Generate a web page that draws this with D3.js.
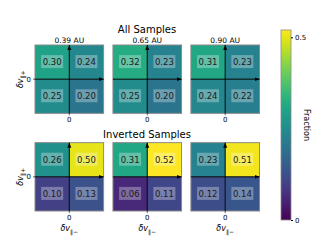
<!DOCTYPE html>
<html><head><meta charset="utf-8">
<script src="https://cdn.jsdelivr.net/npm/d3@7"></script>
<style>body{margin:0;background:#fff}svg{display:block;font-family:"DejaVu Sans",sans-serif}</style>
</head><body><svg id="c" width="317" height="252"></svg>
<script>
const distances = ["0.39 AU", "0.65 AU", "0.90 AU"];
const rowTitles = ["All Samples", "Inverted Samples"];
// quadrant order: top-left, top-right, bottom-left, bottom-right
const allSamples = [[0.30, 0.24, 0.25, 0.20], [0.32, 0.23, 0.25, 0.20], [0.31, 0.23, 0.24, 0.22]];
const invertedSamples = [[0.26, 0.50, 0.10, 0.13], [0.31, 0.52, 0.06, 0.11], [0.23, 0.51, 0.12, 0.14]];
const colorTicks = [0, 0.5];
const vmin = 0, vmax = 0.52;

const svg = d3.select("#c");
const color = d3.scaleSequential(d3.interpolateViridis).domain([vmin, vmax]);
const colX = d3.scaleBand().domain([0,1,2]).range([35, 259.5]).paddingInner(0.12);
const rowY = d3.scaleBand().domain([0,1]).range([45, 211]).paddingInner(0.3);
const quads = [[-1,0,0,1],[0,1,0,1],[-1,0,-1,0],[0,1,-1,0]];

const defs = svg.append("defs");
defs.append("marker").attr("id","arr").attr("viewBox","0 0 10 10").attr("refX",10).attr("refY",5)
  .attr("markerWidth",5).attr("markerHeight",5).attr("orient","auto")
  .append("path").attr("d","M0,1 L10,5 L0,9 Z").attr("fill","#000");

function label(g, x, y, sign, anchor, rot){
  const t = g.append("text").attr("x",x).attr("y",y).attr("font-size",8).attr("text-anchor",anchor||"middle");
  if(rot) t.attr("transform",`rotate(-90,${x},${y})`);
  t.append("tspan").attr("font-style","italic").text("δv");
  t.append("tspan").attr("font-size",6).attr("dy",2.5).text("∥"+sign);
}

[allSamples, invertedSamples].forEach((rows, r) => {
  const y0 = rowY(r), h = rowY.bandwidth();
  svg.append("text").attr("x",147).attr("y", y0 - (r===0?12.5:5)).attr("text-anchor","middle")
    .attr("font-size",10).text(rowTitles[r]);
  rows.forEach((vals, c) => {
    const x0 = colX(c), w = colX.bandwidth();
    const xs = d3.scaleLinear().domain([-1,1]).range([x0, x0+w]);
    const ys = d3.scaleLinear().domain([-1,1]).range([y0+h, y0]);
    const g = svg.append("g");
    g.selectAll("rect.cell").data(vals).join("rect").attr("class","cell")
      .attr("x",(d,i)=>xs(quads[i][0])).attr("y",(d,i)=>ys(quads[i][3]))
      .attr("width",(d,i)=>xs(quads[i][1])-xs(quads[i][0]))
      .attr("height",(d,i)=>ys(quads[i][2])-ys(quads[i][3]))
      .attr("fill",d=>color(d));
    g.append("rect").attr("x",x0).attr("y",y0).attr("width",w).attr("height",h)
      .attr("fill","none").attr("stroke","#8a8a8a").attr("stroke-width",1);
    g.append("line").attr("x1",xs(0)).attr("x2",xs(0)).attr("y1",ys(-1)).attr("y2",ys(1))
      .attr("stroke","#000").attr("stroke-width",1).attr("marker-end","url(#arr)");
    g.append("line").attr("x1",xs(-1)).attr("x2",xs(1)).attr("y1",ys(0)).attr("y2",ys(0))
      .attr("stroke","#000").attr("stroke-width",1).attr("marker-end","url(#arr)");
    vals.forEach((v,i)=>{
      const cx = xs((quads[i][0]+quads[i][1])/2), cy = ys((quads[i][2]+quads[i][3])/2);
      g.append("rect").attr("x",cx-11).attr("y",cy-7).attr("width",22).attr("height",13)
        .attr("fill","#fff").attr("fill-opacity",0.3);
      g.append("text").attr("x",cx).attr("y",cy+3).attr("text-anchor","middle")
        .attr("font-size",8.5).attr("fill","#1a1a1a").text(v.toFixed(2));
    });
    g.append("text").attr("x",xs(0)).attr("y",y0+h+8.5).attr("text-anchor","middle").attr("font-size",7).text("0");
    g.append("line").attr("x1",xs(0)).attr("x2",xs(0)).attr("y1",y0+h).attr("y2",y0+h+2).attr("stroke","#000").attr("stroke-width",0.6);
    if(r===0) g.append("text").attr("x",xs(0)).attr("y",y0-2.5).attr("text-anchor","middle").attr("font-size",7.5).text(distances[c]);
    if(c===0){
      g.append("text").attr("x",x0-4).attr("y",ys(0)+2.5).attr("text-anchor","end").attr("font-size",7).text("0");
      g.append("line").attr("x1",x0-2).attr("x2",x0).attr("y1",ys(0)).attr("y2",ys(0)).attr("stroke","#000").attr("stroke-width",0.6);
      label(g, 23, ys(0), "+", "middle", true);
    }
    if(r===1) label(g, xs(0), y0+h+20, "−", "middle", false);
  });
});

// colorbar
const cb = {x:281, y:30, w:10, h:190};
const cy = d3.scaleLinear().domain([vmin, vmax]).range([cb.y+cb.h, cb.y]);
const grad = defs.append("linearGradient").attr("id","vg").attr("x1",0).attr("y1",1).attr("x2",0).attr("y2",0);
d3.range(0,1.0001,0.05).forEach(t=>grad.append("stop").attr("offset",t).attr("stop-color",d3.interpolateViridis(t)));
svg.append("rect").attr("x",cb.x).attr("y",cb.y).attr("width",cb.w).attr("height",cb.h)
  .attr("fill","url(#vg)").attr("stroke","#8a8a8a").attr("stroke-width",0.8);
const axis = d3.axisRight(cy).tickValues(colorTicks).tickFormat(d=>d===0?"0":d3.format(".1f")(d)).tickSize(2).tickPadding(2);
const ag = svg.append("g").attr("transform",`translate(${cb.x+cb.w},0)`).call(axis);
ag.select(".domain").remove();
ag.selectAll("text").attr("font-size",7).attr("font-family","DejaVu Sans");
svg.append("text").attr("transform",`translate(304,${cb.y+cb.h/2}) rotate(90)`).attr("text-anchor","middle")
  .attr("font-size",8).text("Fraction");
</script></body></html>
